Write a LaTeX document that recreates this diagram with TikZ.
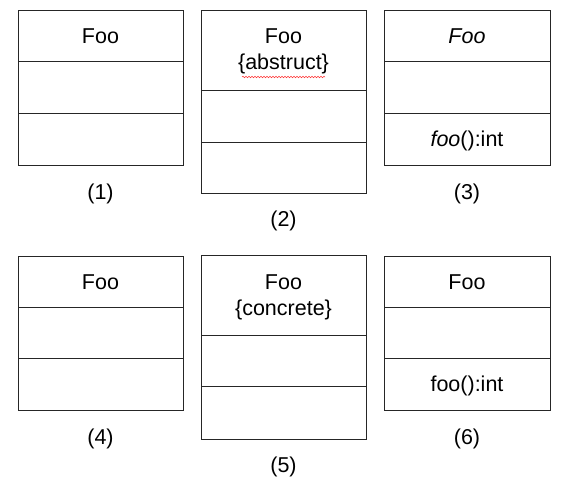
\documentclass[tikz,border=0pt]{standalone}
\usepackage{fontspec}
\setmainfont{Liberation Sans}
\usetikzlibrary{decorations.pathmorphing}
\begin{document}
\begin{tikzpicture}[x=1pt,y=-1pt,
  boxline/.style={draw=black!85, line width=1pt},
  txt/.style={font=\fontsize{21.5}{25}\selectfont, inner sep=0pt, anchor=center},
  squiggle/.style={draw=red!80!white, line width=0.5pt, decorate, decoration={snake, amplitude=0.8pt, segment length=3pt}}]
\useasboundingbox (0,0) rectangle (568,490);
% Box 1
\draw[boxline] (18,10) rectangle (183,165);
\draw[boxline] (18,61) -- (183,61);
\draw[boxline] (18,113) -- (183,113);
\node[txt] (t1) at (100.5,36.5) {Foo};
\node[txt] (l1) at (100.5,194) {(1)};
% Box 2
\draw[boxline] (201,10) rectangle (366,193);
\draw[boxline] (201,90) -- (366,90);
\draw[boxline] (201,142) -- (366,142);
\node[txt] (t2) at (283.5,36.5) {Foo};
\node[txt] (t2b) at (283.5,63.5) {\{abstruct\}};
\draw[squiggle] (242,77) -- (325,77);
\node[txt] (l2) at (283.5,221) {(2)};
% Box 3
\draw[boxline] (384,10) rectangle (550,165);
\draw[boxline] (384,61) -- (550,61);
\draw[boxline] (384,113) -- (550,113);
\node[txt] (t3) at (467,36.5) {\textit{Foo}};
\node[txt] (m3) at (467,141) {\textit{foo}():int};
\node[txt] (l3) at (467,194) {(3)};
% Box 4
\draw[boxline] (18,256) rectangle (183,410);
\draw[boxline] (18,307) -- (183,307);
\draw[boxline] (18,358) -- (183,358);
\node[txt] (t4) at (100.5,282.5) {Foo};
\node[txt] (l4) at (100.5,439) {(4)};
% Box 5
\draw[boxline] (201,255) rectangle (366,439);
\draw[boxline] (201,335.5) -- (366,335.5);
\draw[boxline] (201,386.5) -- (366,386.5);
\node[txt] (t5) at (283.5,282.5) {Foo};
\node[txt] (t5b) at (283.5,310) {\{concrete\}};
\node[txt] (l5) at (283.5,467) {(5)};
% Box 6
\draw[boxline] (384,256) rectangle (550,410);
\draw[boxline] (384,307) -- (550,307);
\draw[boxline] (384,358) -- (550,358);
\node[txt] (t6) at (467,282.5) {Foo};
\node[txt] (m6) at (467,386) {foo():int};
\node[txt] (l6) at (467,439) {(6)};
\end{tikzpicture}
\end{document}
